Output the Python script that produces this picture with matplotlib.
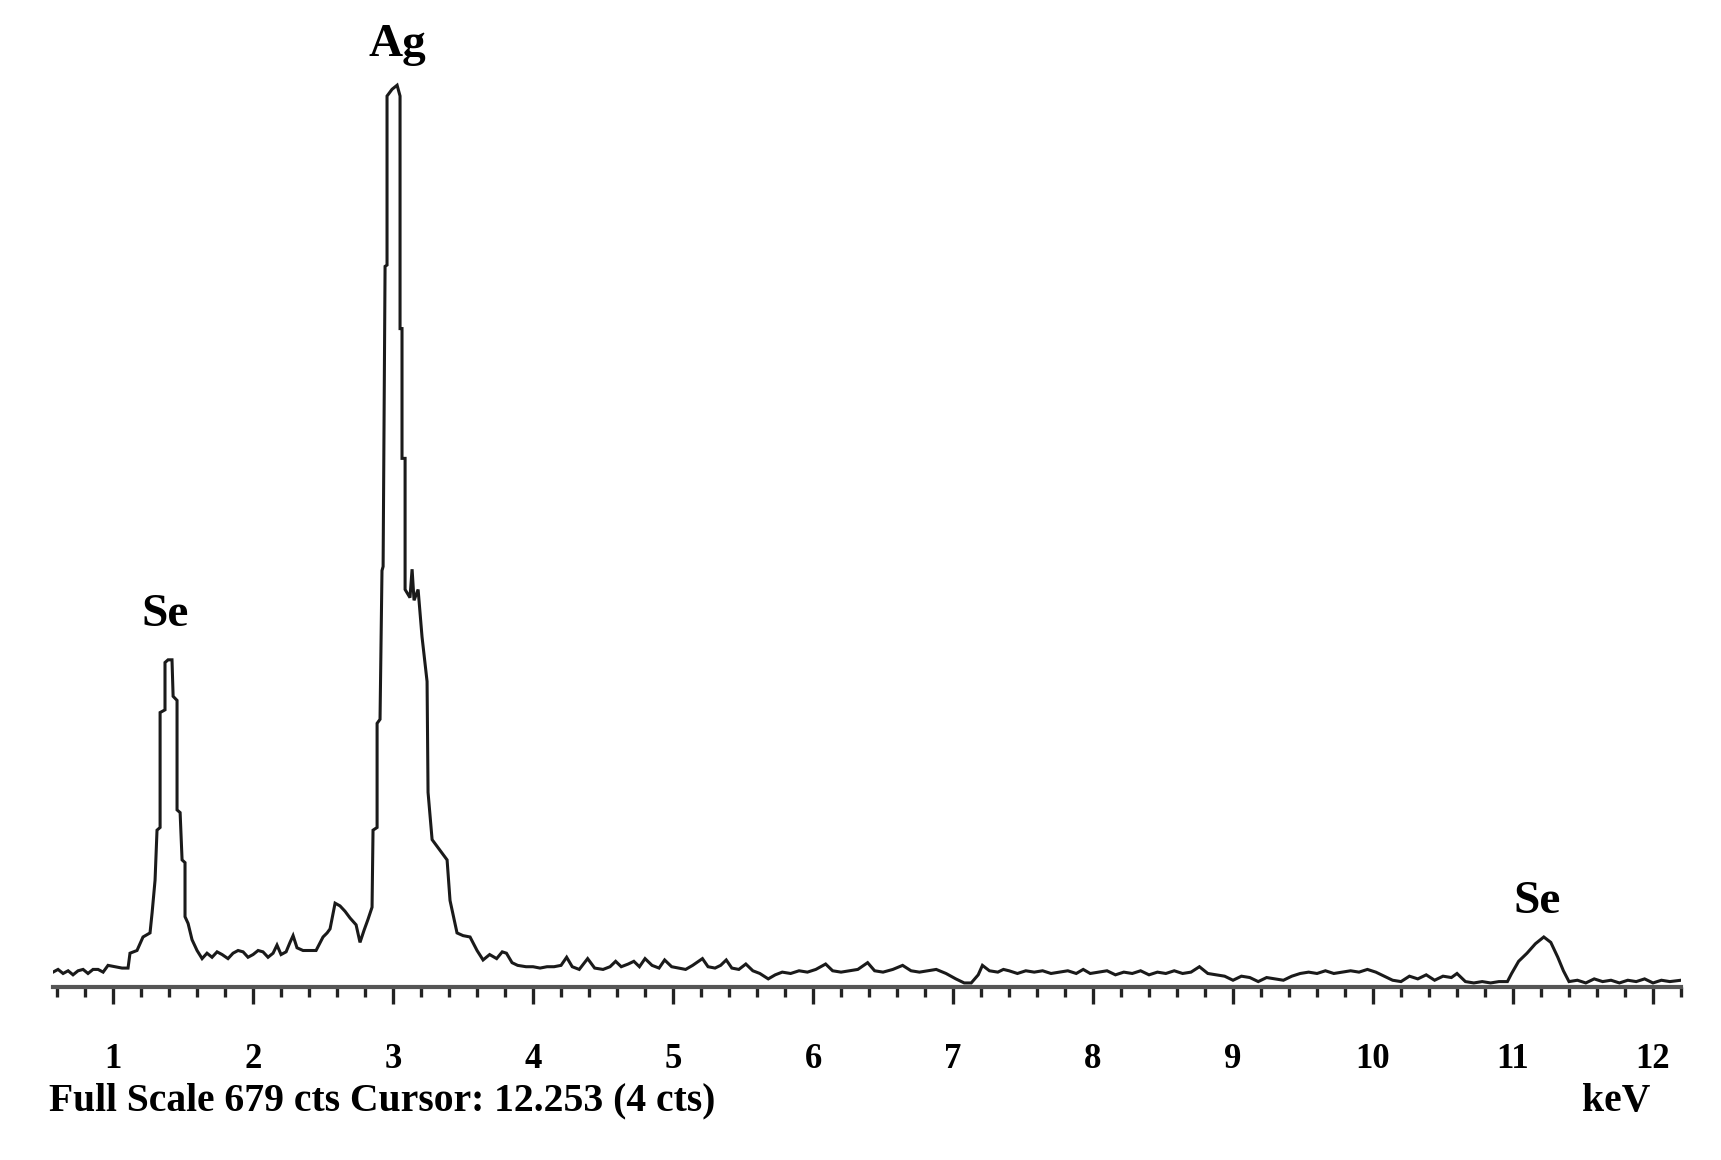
import matplotlib
matplotlib.use("Agg")
import matplotlib.pyplot as plt
from matplotlib.ticker import MultipleLocator

# EDS spectrum (energy in keV, counts)
energy_low = [0.571, 0.607, 0.643, 0.679, 0.714, 0.75, 0.786, 0.821, 0.857, 0.893,
              0.929, 0.964, 1.014, 1.064, 1.107, 1.121, 1.171, 1.214, 1.264, 1.279,
              1.30, 1.314, 1.336, 1.336, 1.371, 1.371, 1.393, 1.421, 1.429, 1.457,
              1.457, 1.479, 1.493, 1.514, 1.514, 1.536, 1.564, 1.60, 1.636, 1.671,
              1.707, 1.743, 1.779, 1.821, 1.857, 1.893, 1.929, 1.964, 2.0, 2.036,
              2.071, 2.107, 2.143, 2.171, 2.20, 2.236, 2.264, 2.286, 2.314, 2.357,
              2.407, 2.45, 2.50, 2.529, 2.55, 2.586, 2.621, 2.657, 2.693, 2.736,
              2.764, 2.793, 2.821, 2.85, 2.857, 2.886, 2.886, 2.907, 2.921, 2.929,
              2.943, 2.957, 2.957, 2.993, 3.029, 3.05, 3.05, 3.064, 3.064, 3.086,
              3.086, 3.121, 3.136, 3.15, 3.179, 3.207, 3.243, 3.25, 3.279, 3.336,
              3.386, 3.407, 3.457, 3.50, 3.55, 3.60, 3.643, 3.69, 3.74, 3.78,
              3.81, 3.85, 3.89]
counts_low = [11, 13, 10, 12, 9, 12, 13, 10, 13, 13,
              11, 16, 15, 14, 14, 25, 27, 37, 40, 55,
              79, 116, 118, 203, 205, 240, 242, 242, 215, 212,
              131, 129, 94, 92, 52, 47, 35, 27, 21, 25,
              22, 26, 24, 21, 25, 27, 26, 22, 24, 27,
              26, 22, 25, 31, 24, 26, 33, 38, 29, 27,
              27, 27, 37, 40, 43, 62, 60, 56, 51, 46,
              33, 42, 50, 59, 116, 118, 195, 198, 308, 311,
              533, 534, 659, 664, 667, 659, 487, 487, 391, 391,
              294, 288, 309, 286, 294, 259, 226, 144, 109, 101,
              94, 64, 40, 38, 37, 27, 20, 24, 21, 26,
              25, 18, 16]

energy_high = [3.95, 4.00, 4.05, 4.10, 4.15, 4.20, 4.24, 4.28, 4.33, 4.39,
               4.44, 4.50, 4.55, 4.59, 4.63, 4.68, 4.72, 4.76, 4.80, 4.85,
               4.90, 4.94, 4.99, 5.04, 5.09, 5.14, 5.21, 5.25, 5.30, 5.34,
               5.38, 5.42, 5.47, 5.52, 5.57, 5.62, 5.68, 5.73, 5.78, 5.84,
               5.90, 5.96, 6.02, 6.09, 6.14, 6.20, 6.26, 6.32, 6.39, 6.44,
               6.50, 6.57, 6.64, 6.70, 6.76, 6.82, 6.88, 6.95, 7.02, 7.08,
               7.13, 7.18, 7.21, 7.26, 7.32, 7.36, 7.40, 7.46, 7.52, 7.58,
               7.64, 7.70, 7.76, 7.82, 7.88, 7.93, 7.98, 8.04, 8.10, 8.16,
               8.22, 8.28, 8.34, 8.40, 8.46, 8.52, 8.58, 8.64, 8.70, 8.76,
               8.82, 8.88, 8.94, 9.00, 9.06, 9.12, 9.18, 9.24, 9.30, 9.36,
               9.42, 9.48, 9.54, 9.60, 9.66, 9.72, 9.78, 9.84, 9.90, 9.96,
               10.02, 10.08, 10.14, 10.20, 10.26, 10.32, 10.38, 10.44, 10.50, 10.56,
               10.60, 10.66, 10.72, 10.78, 10.84, 10.90, 10.96, 10.99, 11.04, 11.10,
               11.16, 11.22, 11.27, 11.32, 11.36, 11.40, 11.46, 11.52, 11.58, 11.64,
               11.70, 11.76, 11.82, 11.88, 11.94, 12.00, 12.06, 12.12, 12.20]
counts_high = [15, 15, 14, 15, 15, 16, 22, 15, 13, 21,
               14, 13, 15, 19, 15, 17, 19, 15, 21, 16,
               14, 20, 15, 14, 13, 16, 21, 15, 14, 16,
               20, 14, 13, 17, 12, 10, 6, 9, 11, 10,
               12, 11, 13, 17, 12, 11, 12, 13, 18, 12,
               11, 13, 16, 12, 11, 12, 13, 10, 6, 3,
               3, 9, 16, 12, 11, 13, 12, 10, 12, 11,
               12, 10, 11, 12, 10, 13, 10, 11, 12, 9,
               11, 10, 12, 9, 11, 10, 12, 10, 11, 15,
               10, 9, 8, 5, 8, 7, 4, 7, 6, 5,
               8, 10, 11, 10, 12, 10, 11, 12, 11, 13,
               11, 8, 5, 4, 8, 6, 9, 5, 8, 7,
               10, 4, 3, 4, 3, 4, 4, 10, 19, 25,
               32, 37, 33, 22, 12, 4, 5, 3, 6, 4,
               5, 3, 5, 4, 6, 3, 5, 4, 5]

tick_values = [1, 2, 3, 4, 5, 6, 7, 8, 9, 10, 11, 12]
peak_labels = ["Ag", "Se", "Se"]
peak_energy = [3.03, 1.37, 11.17]
peak_height = [697, 275, 63]
footer = "Full Scale 679 cts Cursor: 12.253 (4 cts)"

plt.rcParams['font.family'] = ['Liberation Serif', 'DejaVu Serif']
plt.rcParams['font.weight'] = 'bold'

fig = plt.figure(figsize=(17.21, 11.6), dpi=100)
W, H = 1721.0, 1160.0
ax = fig.add_axes([53 / W, (H - 987) / H, (1681 - 53) / W, (987 - 69) / H])

ax.plot(energy_low + energy_high, counts_low + counts_high, color='#1a1a1a',
        linewidth=2.2, solid_joinstyle='miter')

ax.set_xlim(0.571, 12.2)
ax.set_ylim(0, 679)
for s in ['top', 'left', 'right']:
    ax.spines[s].set_visible(False)
ax.spines['bottom'].set_color('#555555')
ax.spines['bottom'].set_linewidth(3)
ax.set_yticks([])

ax.set_xticks(tick_values)
ax.xaxis.set_minor_locator(MultipleLocator(0.2))
ax.tick_params(axis='x', which='major', direction='out', length=12, width=2.4,
               color='#222222', pad=28, labelsize=25)
ax.tick_params(axis='x', which='minor', direction='out', length=7, width=2.4,
               color='#222222')
for lab in ax.get_xticklabels():
    lab.set_fontweight('bold')

for name, e, h in zip(peak_labels, peak_energy, peak_height):
    ax.text(e, h, name, ha='center', va='center', fontsize=34,
            fontweight='bold', clip_on=False)

fig.text(49 / W, (H - 1101) / H, footer, ha='left', va='center',
         fontsize=28.5, fontweight='bold')
fig.text(1616 / W, (H - 1101) / H, "keV", ha='center', va='center',
         fontsize=28.5, fontweight='bold')

plt.savefig('out.png', dpi=100)
plt.close()
